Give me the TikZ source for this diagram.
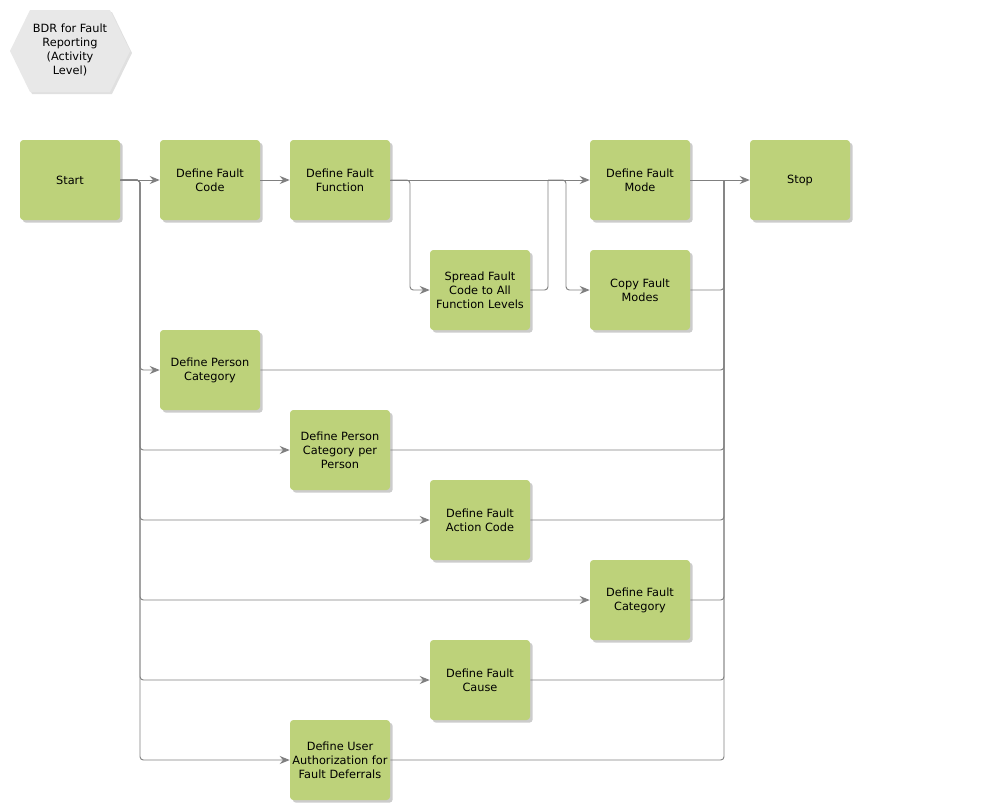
\documentclass[tikz,border=0pt]{standalone}
\usepackage{fontspec}
\setmainfont{DejaVu Sans}
\usetikzlibrary{shadows,arrows.meta}
\definecolor{boxgreen}{RGB}{189,210,122}
\definecolor{linegray}{RGB}{128,128,128}
\definecolor{hexgray}{RGB}{232,232,232}
\begin{document}
\begin{tikzpicture}[x=0.75pt,y=-0.75pt,
  lbl/.style={align=center,font=\fontsize{8.5}{10.4}\selectfont,inner sep=1pt},
  act/.style={lbl,draw=none,fill=boxgreen,rounded corners=2.5pt,minimum width=75pt,minimum height=60pt,
    drop shadow={shadow xshift=2pt,shadow yshift=-2pt,fill=black,opacity=0.2}},
  conn/.style={draw=linegray,line width=0.7pt,rounded corners=2.5pt},
  arr/.style={conn,-{Stealth[length=7.5pt,width=6pt]}}]
\useasboundingbox (0,0) rectangle (988,810);
% title hexagon
\path[fill=hexgray,drop shadow={shadow xshift=1.5pt,shadow yshift=-1.5pt,fill=black,opacity=0.12}]
  (10,51) -- (30,10) -- (110,10) -- (130,51) -- (110,92) -- (30,92) -- cycle;
\node[lbl] (title) at (70,50) {BDR for Fault\\Reporting\\(Activity\\Level)};
% activities
\node[act] (start) at (70,180) {Start};
\node[act] (dfc) at (210,180) {Define Fault\\Code};
\node[act] (dff) at (340,180) {Define Fault\\Function};
\node[act] (dfm) at (640,180) {Define Fault\\Mode};
\node[act] (stop) at (800,180) {Stop};
\node[act] (sfc) at (480,290) {Spread Fault\\Code to All\\Function Levels};
\node[act] (cfm) at (640,290) {Copy Fault\\Modes};
\node[act] (dpc) at (210,370) {Define Person\\Category};
\node[act] (dpcp) at (340,450) {Define Person\\Category per\\Person};
\node[act] (dfac) at (480,520) {Define Fault\\Action Code};
\node[act] (dfcat) at (640,600) {Define Fault\\Category};
\node[act] (dfcause) at (480,680) {Define Fault\\Cause};
\node[act] (dua) at (340,760) {Define User\\Authorization for\\Fault Deferrals};
% junction coordinates
\coordinate (bx) at (140,180);
\coordinate (fx) at (410,180);
\coordinate (sx) at (548,180);
\coordinate (cx) at (566,180);
\coordinate (mx) at (724,180);
% connectors
\draw[arr] (start.east) -- (dfc.west);
\draw[arr] (start.east) -- (bx) |- (dpc.west);
\draw[arr] (start.east) -- (bx) |- (dpcp.west);
\draw[arr] (start.east) -- (bx) |- (dfac.west);
\draw[arr] (start.east) -- (bx) |- (dfcat.west);
\draw[arr] (start.east) -- (bx) |- (dfcause.west);
\draw[arr] (start.east) -- (bx) |- (dua.west);
\draw[arr] (dfc.east) -- (dff.west);
\draw[arr] (dff.east) -- (dfm.west);
\draw[arr] (dff.east) -- (fx) |- (sfc.west);
\draw[conn] (sfc.east) -| (sx);
\draw[arr] (sx) -- (cx) |- (cfm.west);
\draw[arr] (dfm.east) -- (stop.west);
\draw[conn] (cfm.east) -| (mx);
\draw[conn] (dpc.east) -| (mx);
\draw[conn] (dpcp.east) -| (mx);
\draw[conn] (dfac.east) -| (mx);
\draw[conn] (dfcat.east) -| (mx);
\draw[conn] (dfcause.east) -| (mx);
\draw[conn] (dua.east) -| (mx);
\end{tikzpicture}
\end{document}
